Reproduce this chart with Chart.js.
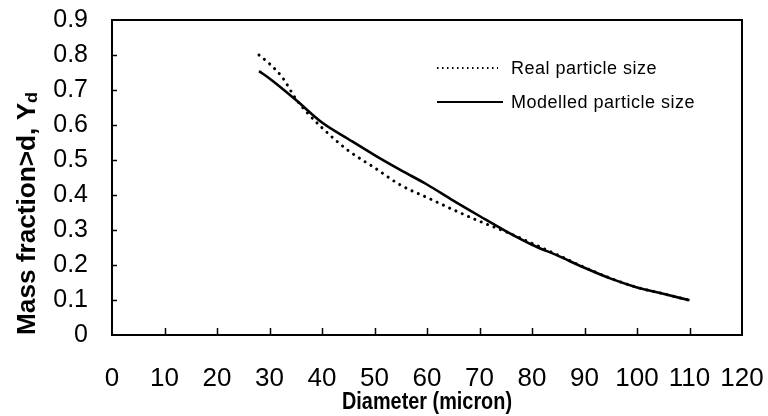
<!DOCTYPE html>
<html>
<head>
<meta charset="utf-8">
<script src="https://cdn.jsdelivr.net/npm/chart.js@4/dist/chart.umd.min.js"></script>
<style>
  html, body { margin: 0; padding: 0; background: #fff; }
  #wrap { width: 768px; height: 416px; }
</style>
</head>
<body>
<div id="wrap"><canvas id="c" width="768" height="416"></canvas></div>
<script>
// Measured size distribution (dotted curve)
const realDiameter = [28, 30, 32.5, 35, 37.5, 40, 42.5, 45, 50, 55, 60, 65, 70, 75, 80, 85, 90, 95, 100, 105, 110];
const realFraction = [0.80, 0.775, 0.735, 0.675, 0.63, 0.592, 0.558, 0.527, 0.478, 0.428, 0.393, 0.358, 0.325, 0.295, 0.262, 0.228, 0.193, 0.162, 0.136, 0.118, 0.099];

// Modelled size distribution (solid curve)
const modelDiameter = [28, 30, 35, 40, 45, 50, 55, 60, 65, 70, 75, 80, 85, 90, 95, 100, 105, 110];
const modelFraction = [0.754, 0.733, 0.672, 0.607, 0.56, 0.514, 0.471, 0.43, 0.384, 0.34, 0.297, 0.258, 0.226, 0.192, 0.161, 0.136, 0.118, 0.099];

// Axis ticks
const xTickValues = [0, 10, 20, 30, 40, 50, 60, 70, 80, 90, 100, 110, 120];
const yTickValues = [0, 0.1, 0.2, 0.3, 0.4, 0.5, 0.6, 0.7, 0.8, 0.9];

const seriesNames = ['Real particle size', 'Modelled particle size'];
const xTitle = 'Diameter (micron)';
const yTitleMain = 'Mass fraction>d, ';
const yTitleSymbol = 'Y';
const yTitleSub = 'd';

const FONT = "'Liberation Sans', Arial, Helvetica, sans-serif";

const toPoints = (xs, ys) => xs.map((x, i) => ({ x: x, y: ys[i] }));

// Frame, inward tick marks, axis titles and the in-plot legend
const decorations = {
  id: 'decorations',
  afterDraw(chart) {
    const { ctx, chartArea: a, scales: { x, y } } = chart;
    ctx.save();
    ctx.strokeStyle = '#000';
    ctx.fillStyle = '#000';

    // plot frame
    ctx.lineWidth = 2;
    ctx.strokeRect(a.left, a.top, a.right - a.left, a.bottom - a.top);

    // inward ticks
    ctx.lineWidth = 1.5;
    ctx.beginPath();
    xTickValues.forEach(v => {
      const px = Math.round(x.getPixelForValue(v)) + 0.5;
      if (v === x.min || v === x.max) return;
      ctx.moveTo(px, a.bottom);
      ctx.lineTo(px, a.bottom - 7);
    });
    yTickValues.forEach(v => {
      const py = Math.round(y.getPixelForValue(v)) + 0.5;
      if (v === y.min || v === y.max) return;
      ctx.moveTo(a.left, py);
      ctx.lineTo(a.left + 5, py);
    });
    ctx.stroke();

    // x title
    ctx.save();
    ctx.font = 'bold 23px ' + FONT;
    ctx.textAlign = 'center';
    ctx.textBaseline = 'middle';
    const xw = ctx.measureText(xTitle).width;
    ctx.translate((a.left + a.right) / 2, 403);
    ctx.scale(170 / xw, 1);
    ctx.fillText(xTitle, 0, 0);
    ctx.restore();

    // y title with subscript
    ctx.save();
    ctx.translate(35, 335);
    ctx.rotate(-Math.PI / 2);
    ctx.textAlign = 'left';
    ctx.textBaseline = 'alphabetic';
    ctx.font = 'bold 25px ' + FONT;
    const w1 = ctx.measureText(yTitleMain).width;
    const w2 = ctx.measureText(yTitleSymbol).width;
    ctx.font = 'bold 17px ' + FONT;
    const w3 = ctx.measureText(yTitleSub).width;
    ctx.scale(243 / (w1 + w2 + w3), 1);
    ctx.font = 'bold 25px ' + FONT;
    ctx.fillText(yTitleMain, 0, 0);
    ctx.fillText(yTitleSymbol, w1, 0);
    ctx.font = 'bold 17px ' + FONT;
    ctx.fillText(yTitleSub, w1 + w2, 2);
    ctx.restore();

    // legend
    const rows = [
      { y: 68, dash: [1.5, 3.5], width: 2, x2: 498 },
      { y: 102, dash: [], width: 2, x2: 503 }
    ];
    ctx.font = '18px ' + FONT;
    ctx.textAlign = 'left';
    ctx.textBaseline = 'middle';
    if ('letterSpacing' in ctx) ctx.letterSpacing = '0.5px';
    rows.forEach((r, i) => {
      ctx.beginPath();
      ctx.setLineDash(r.dash);
      ctx.lineWidth = r.width;
      ctx.moveTo(437, r.y);
      ctx.lineTo(r.x2, r.y);
      ctx.stroke();
      ctx.setLineDash([]);
      ctx.fillText(seriesNames[i], 511, r.y + 1);
    });
    ctx.restore();
  }
};

new Chart(document.getElementById('c'), {
  type: 'line',
  data: {
    datasets: [
      {
        label: seriesNames[0],
        data: toPoints(realDiameter, realFraction),
        borderColor: '#000',
        borderWidth: 3,
        borderDash: [0.1, 6.8],
        borderCapStyle: 'round',
        pointRadius: 0,
        tension: 0.4,
        cubicInterpolationMode: 'monotone',
        fill: false
      },
      {
        label: seriesNames[1],
        data: toPoints(modelDiameter, modelFraction),
        borderColor: '#000',
        borderWidth: 2.6,
        pointRadius: 0,
        tension: 0.4,
        cubicInterpolationMode: 'monotone',
        fill: false
      }
    ]
  },
  options: {
    responsive: false,
    animation: false,
    devicePixelRatio: 1,
    layout: { padding: { top: 20, right: 26, left: 0, bottom: 0 } },
    plugins: {
      legend: { display: false },
      tooltip: { enabled: false }
    },
    scales: {
      x: {
        type: 'linear',
        min: 0,
        max: 120,
        afterBuildTicks: s => { s.ticks = xTickValues.map(v => ({ value: v })); },
        afterFit: s => { s.height = 81; s.paddingLeft = 0; s.paddingRight = 0; },
        ticks: {
          color: '#000',
          font: { family: FONT, size: 26 },
          padding: 28,
          maxRotation: 0,
          autoSkip: false,
          callback: v => String(v)
        },
        grid: { display: false, drawTicks: false },
        border: { display: false }
      },
      y: {
        type: 'linear',
        min: 0,
        max: 0.9,
        afterBuildTicks: s => { s.ticks = yTickValues.map(v => ({ value: v })); },
        afterFit: s => { s.width = 112; s.paddingTop = 0; s.paddingBottom = 0; },
        ticks: {
          color: '#000',
          font: { family: FONT, size: 25 },
          padding: 24,
          autoSkip: false,
          callback: v => (v === 0 ? '0' : v.toFixed(1))
        },
        grid: { display: false, drawTicks: false },
        border: { display: false }
      }
    }
  },
  plugins: [decorations]
});
</script>
</body>
</html>
